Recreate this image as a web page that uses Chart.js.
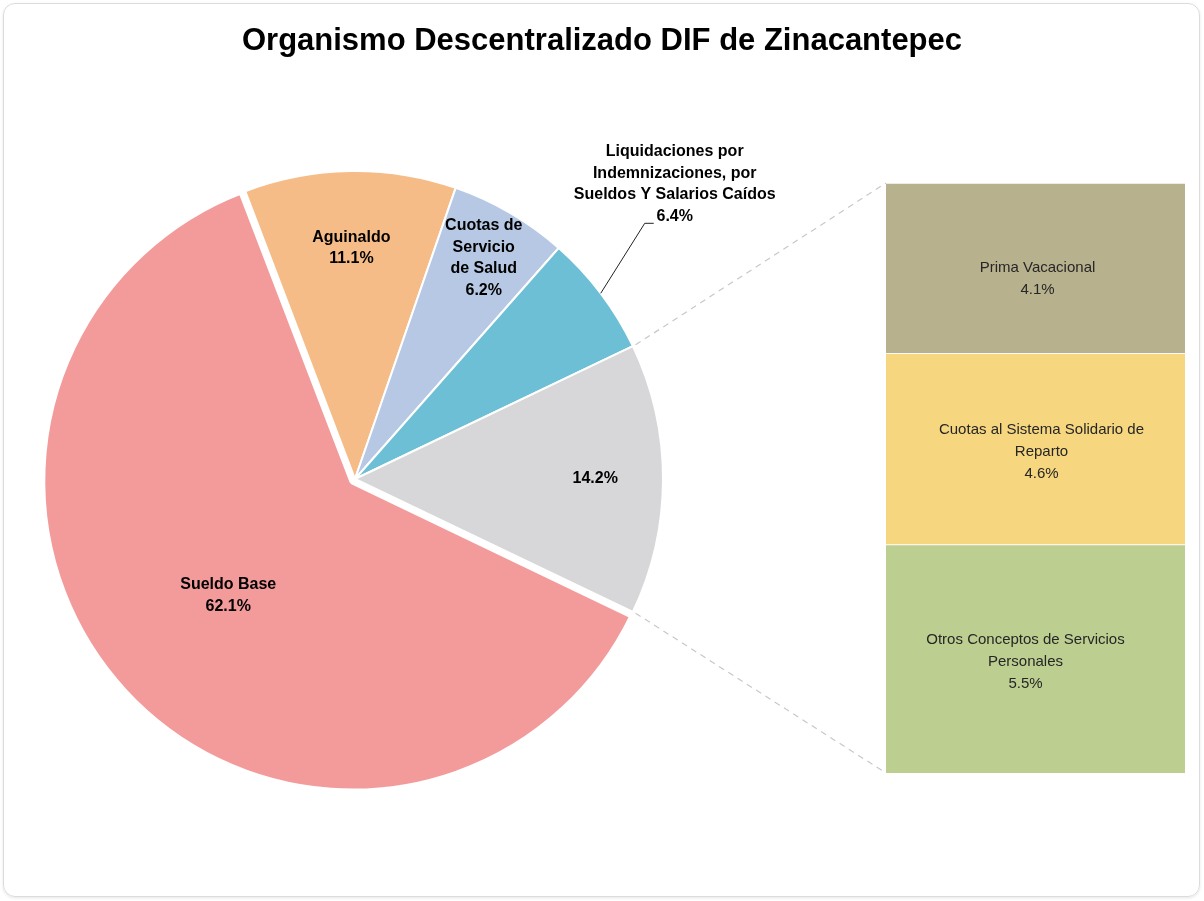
<!DOCTYPE html>
<html><head><meta charset="utf-8">
<script src="https://cdn.jsdelivr.net/npm/chart.js@4/dist/chart.umd.min.js"></script>
<style>
html,body{margin:0;padding:0;background:#fff;width:1204px;height:901px;overflow:hidden;}
#frame{position:absolute;left:3px;top:3px;width:1195px;height:892px;border:1px solid #dcdcdc;border-radius:12px;box-shadow:0 1px 3px rgba(0,0,0,0.10);}
canvas{position:absolute;left:0;top:0;}
</style></head><body>
<div id="frame"></div>
<canvas id="pie" width="1204" height="901"></canvas>
<canvas id="bar" width="1204" height="901"></canvas>
<script>
// ---- data ----
const chartTitle = 'Organismo Descentralizado DIF de Zinacantepec';
const pieLabels = [['Sueldo Base'], ['Aguinaldo'], ['Cuotas de', 'Servicio', 'de Salud'], ['Liquidaciones por', 'Indemnizaciones, por', 'Sueldos Y Salarios Caídos'], []];
const pieValues = [62.1, 11.1, 6.2, 6.4, 14.2];
const pieColors = ['#f39b9a', '#f6bc88', '#b6c8e4', '#6cbfd5', '#d7d7d9'];
// bar of pie (stacked bottom -> top)
const barLabels = [['Otros Conceptos de Servicios', 'Personales'], ['Cuotas al Sistema Solidario de', 'Reparto'], ['Prima Vacacional']];
const barValues = [5.5, 4.6, 4.1];
const barColors = ['#bccf91', '#f6d67e', '#b8b18e'];

// ---- styles ----
const FONT = '"Liberation Sans", Arial, sans-serif';
const pieLabelRadius = [0.55, 0.75, 0.83, null, 0.78];
const barLabelShift = [[-10, 0], [6, 0], [2, 8]];
const barTotal = barValues.reduce((a, b) => a + b, 0);

const pieLabelPlugin = {
  id: 'pieLabels',
  afterDatasetsDraw(chart) {
    const ctx = chart.ctx;
    const arcs = chart.getDatasetMeta(0).data;
    ctx.save();
    ctx.font = 'bold 16px ' + FONT;
    ctx.fillStyle = '#000';
    ctx.textAlign = 'center';
    ctx.textBaseline = 'middle';
    const lh = 21.5;
    arcs.forEach((arc, i) => {
      const p = arc.getProps(['x', 'y', 'startAngle', 'endAngle', 'outerRadius']);
      const mid = (p.startAngle + p.endAngle) / 2;
      const lines = pieLabels[i].concat([pieValues[i].toFixed(1) + '%']);
      if (pieLabelRadius[i] == null) {
        const ax = p.x + Math.cos(mid) * p.outerRadius, ay = p.y + Math.sin(mid) * p.outerRadius;
        const ex = ax + 44, ey = ay - 70;
        ctx.strokeStyle = '#222';
        ctx.lineWidth = 1;
        ctx.beginPath();
        ctx.moveTo(ax, ay); ctx.lineTo(ex, ey); ctx.lineTo(ex + 9, ey);
        ctx.stroke();
        const cx = ax + 74, lastY = ey - 7;
        lines.forEach((t, k) => ctx.fillText(t, cx, lastY - (lines.length - 1 - k) * lh));
      } else {
        const off = (arc.options.offset || 0) / 4;
        const r = p.outerRadius * pieLabelRadius[i] + off;
        const cx = p.x + Math.cos(mid) * r, cy = p.y + Math.sin(mid) * r;
        lines.forEach((t, k) => ctx.fillText(t, cx, cy + (k - (lines.length - 1) / 2) * lh));
      }
    });
    ctx.restore();
  }
};

const pieChart = new Chart(document.getElementById('pie'), {
  type: 'pie',
  data: {
    labels: pieLabels.map(l => l.join(' ') || 'Otros'),
    datasets: [{
      data: pieValues,
      backgroundColor: pieColors,
      borderColor: '#ffffff',
      borderWidth: [7, 2, 2, 2, 2],
      offset: [12, 0, 0, 0, 0]
    }]
  },
  options: {
    responsive: false,
    animation: false,
    radius: 308,
    rotation: 90 + pieValues[4] * 3.6 / 2,
    layout: { padding: { left: 41, top: 165, right: 535, bottom: 108 } },
    plugins: { legend: { display: false }, tooltip: { enabled: false } }
  },
  plugins: [pieLabelPlugin]
});

const barPlugin = {
  id: 'barExtras',
  beforeDatasetsDraw(chart) {
    const ctx = chart.ctx;
    const arc = pieChart.getDatasetMeta(0).data[4];
    const p = arc.getProps(['x', 'y', 'startAngle', 'endAngle', 'outerRadius']);
    const top = chart.getDatasetMeta(barValues.length - 1).data[0];
    const bot = chart.getDatasetMeta(0).data[0];
    const left = top.x - top.width / 2;
    const r = p.outerRadius + 3;
    ctx.save();
    ctx.strokeStyle = '#c8c8c8';
    ctx.lineWidth = 1.2;
    ctx.setLineDash([6, 5]);
    ctx.beginPath();
    ctx.moveTo(p.x + Math.cos(p.startAngle) * r, p.y + Math.sin(p.startAngle) * r);
    ctx.lineTo(left, top.y);
    ctx.moveTo(p.x + Math.cos(p.endAngle) * r, p.y + Math.sin(p.endAngle) * r);
    ctx.lineTo(left, bot.base);
    ctx.stroke();
    ctx.restore();
  },
  afterDatasetsDraw(chart) {
    const ctx = chart.ctx;
    ctx.save();
    ctx.font = '15px ' + FONT;
    ctx.fillStyle = '#262626';
    ctx.textAlign = 'center';
    ctx.textBaseline = 'middle';
    const lh = 22;
    barValues.forEach((v, i) => {
      const el = chart.getDatasetMeta(i).data[0];
      const lines = barLabels[i].concat([v.toFixed(1) + '%']);
      const cx = el.x + barLabelShift[i][0];
      const cy = (el.y + el.base) / 2 + 3 + barLabelShift[i][1];
      lines.forEach((t, k) => ctx.fillText(t, cx, cy + (k - (lines.length - 1) / 2) * lh));
    });
    ctx.restore();
  }
};

const barChart = new Chart(document.getElementById('bar'), {
  type: 'bar',
  data: {
    labels: [''],
    datasets: barValues.map((v, i) => ({
      label: barLabels[i].join(' '),
      data: [v],
      backgroundColor: barColors[i],
      borderColor: 'rgba(255,255,255,0.6)',
      borderWidth: { top: 1 },
      borderSkipped: false,
      barPercentage: 1,
      categoryPercentage: 1
    }))
  },
  options: {
    responsive: false,
    animation: false,
    layout: { padding: { bottom: 128 } },
    scales: {
      x: { stacked: true, display: false },
      y: {
        stacked: true, min: 0, max: barTotal, position: 'left',
        grid: { display: false }, border: { display: false }, ticks: { display: false },
        afterFit: s => { s.width = 886; }
      },
      yRight: {
        type: 'linear', position: 'right',
        grid: { display: false }, border: { display: false }, ticks: { display: false },
        afterFit: s => { s.width = 19; }
      }
    },
    plugins: {
      legend: { display: false },
      tooltip: { enabled: false },
      title: {
        display: true, text: chartTitle, color: '#000',
        font: { family: FONT, size: 31, weight: 'bold' },
        padding: { top: 23, bottom: 122.8 }
      }
    }
  },
  plugins: [barPlugin]
});
</script>
</body></html>
